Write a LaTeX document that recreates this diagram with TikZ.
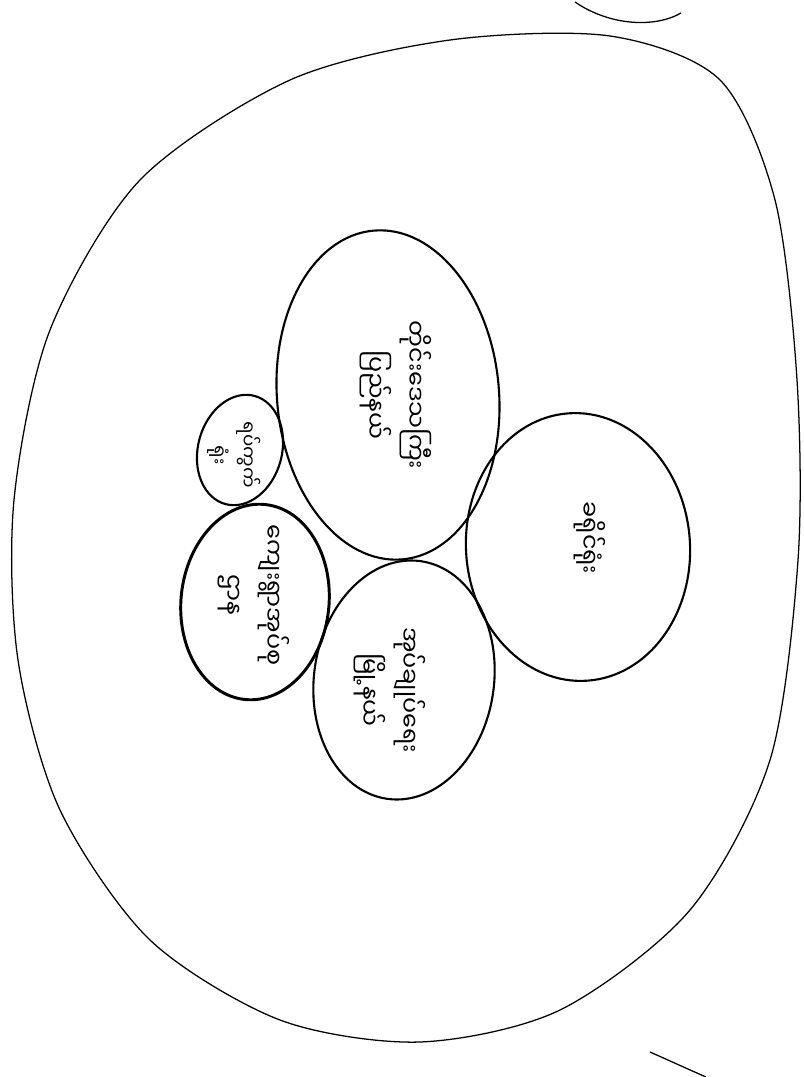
\documentclass[tikz,border=0pt]{standalone}
\usepackage{fontspec}
\newfontfamily\mmfont[Script=Myanmar]{Noto Sans Myanmar UI}
\usetikzlibrary{positioning}

\begin{document}
\begin{tikzpicture}[
    x=0.025cm, y=0.025cm,
    outer/.style={draw=black, line width=0.9pt},
    blob/.style={draw=black, line width=1.5pt},
    label/.style={
        font=\mmfont\fontsize{17}{28}\selectfont,
        rotate=-90,
        align=center,
        inner sep=0pt
    },
    smalllabel/.style={label, font=\mmfont\fontsize{13}{21}\selectfont}
]
\useasboundingbox (0,0) rectangle (803,-1077);

% =========================================================
% Outer region
% =========================================================
\draw[outer] plot[smooth cycle] coordinates {
    (610,-36) (720,-80) (775,-200) (797,-380) (798,-560) (770,-760)
    (690,-910) (560,-1010) (420,-1042) (280,-1020) (150,-940) (60,-810)
    (18,-660) (14,-500) (50,-330) (140,-180) (290,-80) (450,-40)};

% bits of the neighbouring sheets
\draw[outer] (575,-2) .. controls (610,-26) and (655,-28) .. (681,-13);
\draw[outer] (650,-1052) .. controls (668,-1060) and (690,-1070) .. (706,-1077);

% =========================================================
% Inner regions
% =========================================================
\coordinate (ringA) at (240,-450);
\coordinate (ringB) at (388,-395);
\coordinate (ringC) at (255,-602);
\coordinate (ringD) at (404,-680);
\coordinate (ringE) at (578,-547);

\draw[blob, rotate around={-15:(ringA)}] (ringA) ellipse [x radius=42, y radius=56];
\draw[blob, rotate around={5:(ringB)}] (ringB) ellipse [x radius=111, y radius=165];
\draw[blob, line width=2.1pt, rotate around={-6:(ringC)}] (ringC) ellipse [x radius=74, y radius=98];
\draw[blob, rotate around={-8:(ringD)}] (ringD) ellipse [x radius=90, y radius=120];
\draw[blob, rotate around={4:(ringE)}] (ringE) ellipse [x radius=112, y radius=134];

% =========================================================
% Labels
% =========================================================
\node[smalllabel] (wardA) at (234,-455) {ရပ်ကွက်\\ရုံး};
\node[label] (regionB) at (396,-395) {တိုင်းဒေသကြီး\\ပြည်နယ်};
\node[label] (villageC) at (254,-595) {ကျေးရွာအုပ်စု\\ဌာန};
\node[label] (townD) at (390,-690) {အုပ်ချုပ်ရေး\\မြို့နယ်};
\node[label] (districtE) at (590,-538) {ခရိုင်ရုံး};

\end{tikzpicture}
\end{document}
